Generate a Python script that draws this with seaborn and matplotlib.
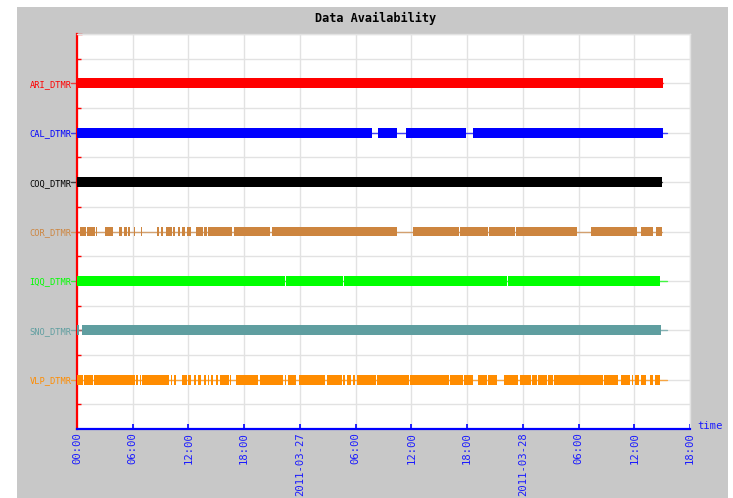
import numpy as np
import pandas as pd
import matplotlib
matplotlib.use("Agg")
import matplotlib.pyplot as plt
import seaborn as sns
from matplotlib.patches import Rectangle

# ---------------- data (hours since 2011-03-26 00:00) ----------------
stations = ["ARI_DTMR", "CAL_DTMR", "COQ_DTMR", "COR_DTMR", "IQQ_DTMR", "SNO_DTMR", "VLP_DTMR"]
colors = ["#ff0000", "#0000ff", "#000000", "#cd853f", "#00ff00", "#5f9ea0", "#ff8c00"]

ari = [(0.0, 0.27), (0.33, 0.74), (0.80, 63.06)]
cal = [(0.0, 31.73), (32.44, 34.49), (35.39, 41.85), (42.60, 63.06)]
coq = [(0.0, 63.0)]
cor = [(0.36, 1.00), (1.08, 1.91), (2.01, 2.19), (3.05, 3.88), (4.55, 4.85), (5.06, 5.35),
       (5.49, 5.74), (6.10, 6.28), (6.92, 7.03), (8.65, 8.86), (9.01, 9.23), (9.55, 10.23),
       (10.34, 10.58), (10.87, 11.06), (11.31, 11.66), (11.84, 12.27), (12.81, 13.53),
       (13.64, 14.00), (14.10, 16.69), (16.87, 20.81), (20.99, 34.49), (36.14, 41.16),
       (41.24, 44.28), (44.39, 47.16), (47.27, 53.87), (55.31, 60.33), (60.69, 62.05),
       (62.34, 62.98)]
iqq = [(0.0, 22.42), (22.53, 28.62), (28.72, 46.25), (46.36, 62.77)]
sno = [(0.05, 0.20), (0.55, 62.88)]
vlp = [(0.0, 0.65), (0.75, 1.75), (1.86, 6.28), (6.38, 6.60), (6.75, 6.89), (7.03, 9.94),
       (10.09, 10.26), (10.41, 10.66), (11.34, 11.81), (11.95, 12.27), (12.60, 12.78),
       (13.06, 13.35), (13.67, 13.92), (14.07, 14.24), (14.40, 14.68), (14.93, 15.21),
       (15.40, 16.33), (16.47, 16.61), (17.15, 19.46), (19.67, 22.18), (22.36, 22.53),
       (22.69, 23.58), (23.87, 26.73), (26.88, 28.53), (28.67, 28.89), (29.04, 29.53),
       (29.72, 29.96), (30.18, 32.19), (32.33, 35.78), (35.89, 40.05), (40.19, 41.53),
       (41.70, 42.60), (43.14, 44.11), (44.28, 45.25), (45.97, 47.51), (47.70, 48.85),
       (49.02, 49.49), (49.67, 50.57), (50.74, 51.22), (51.39, 56.60), (56.77, 58.28),
       (58.54, 59.54), (59.72, 59.89), (60.08, 60.54), (60.69, 61.26), (61.69, 61.98),
       (62.23, 62.77)]
segments = [ari, cal, coq, cor, iqq, sno, vlp]
line_ends = [63.06, 63.5, 63.0, 62.98, 63.5, 63.5, 63.5]

tick_hours = [0, 6, 12, 18, 24, 30, 36, 42, 48, 54, 60, 66]
tick_labels = ["00:00", "06:00", "12:00", "18:00", "2011-03-27", "06:00", "12:00",
               "18:00", "2011-03-28", "06:00", "12:00", "18:00"]
title = "Data Availability"

# ---------------- style ----------------
sns.set_style("white")
plt.rcParams["font.family"] = ["DejaVu Sans Mono", "DejaVu Sans"]

W, H = 733, 498
fig = plt.figure(figsize=(W / 100, H / 100), dpi=100, facecolor="white")
fig.patches.append(Rectangle((17 / W, 0), (728 - 17) / W, (H - 7) / H,
                             transform=fig.transFigure, facecolor="#c8c8c8",
                             edgecolor="none", zorder=-10))
ax = fig.add_axes([77 / W, 1 - 429 / H, (690 - 77) / W, (429 - 34) / H])
ax.set_facecolor("white")

n = len(stations)
ypos = [n - i for i in range(n)]

# thin row lines (seaborn)
rows = []
for st, y, e in zip(stations, ypos, line_ends):
    rows.append({"station": st, "t": -0.6, "y": y})
    rows.append({"station": st, "t": e, "y": y})
df_lines = pd.DataFrame(rows)
sns.lineplot(data=df_lines, x="t", y="y", hue="station", units="station",
             estimator=None, palette=dict(zip(stations, colors)), legend=False,
             linewidth=1.0, alpha=0.7, ax=ax, zorder=2)
for ln in ax.lines:
    ln.set_clip_on(False)

# availability bars
for segs, y, c in zip(segments, ypos, colors):
    starts = np.array([s for s, e in segs])
    ends = np.array([e for s, e in segs])
    ax.barh(y, ends - starts, left=starts, height=0.2, color=c,
            edgecolor="none", zorder=3)

ax.set_xlim(0, 66)
ax.set_ylim(0, 8)
ax.set_xticks(tick_hours)
ax.set_xticklabels(tick_labels, rotation=90, fontsize=7.6, color="#1a1aff")
ax.set_yticks(ypos + [8])
ax.set_yticklabels(stations + [""], fontsize=6.2)
for lab, c in zip(ax.get_yticklabels(), colors):
    lab.set_color(c)
ax.set_yticks(np.arange(0.5, 8, 1), minor=True)

ax.grid(which="major", axis="both", color="#e2e2e2", linewidth=1.0)
ax.grid(which="minor", axis="y", color="#e2e2e2", linewidth=1.0)
ax.set_axisbelow(True)

ax.tick_params(axis="y", which="major", direction="in", length=3.6, width=1.0,
               color="#ff0000", pad=4, left=True)
ax.tick_params(axis="y", which="minor", direction="in", length=2.9, width=1.0,
               color="#ff0000", left=True)
ax.tick_params(axis="x", which="major", direction="in", length=3.6, width=1.2,
               color="#0000ff", pad=2, bottom=True)

for s in ["top", "right"]:
    ax.spines[s].set_color("#e2e2e2")
    ax.spines[s].set_linewidth(1.0)
ax.spines["left"].set_color("#ff0000")
ax.spines["left"].set_linewidth(1.6)
ax.spines["bottom"].set_color("#0000ff")
ax.spines["bottom"].set_linewidth(1.6)
ax.set_xlabel("")
ax.set_ylabel("")

fig.text(697 / W, 1 - 426 / H, "time", color="#1a1aff", fontsize=7.6,
         ha="left", va="center")
fig.text(376 / W, 1 - 18 / H, title, fontsize=8.6, fontweight="bold",
         ha="center", va="center", color="black")

fig.savefig("out.png", dpi=100, facecolor="white")
